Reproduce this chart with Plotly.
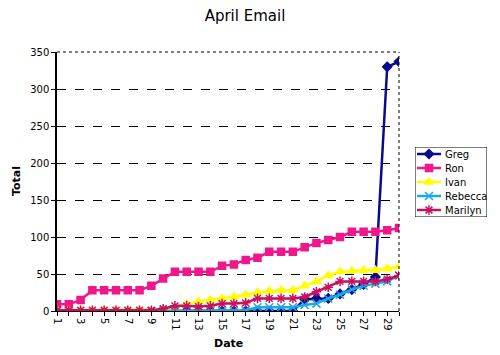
import plotly.graph_objects as go

days = list(range(1, 31))
greg = [None]*10 + [0]*11 + [16, 17, 17, 23, 29, 36, 46, 330, 337]
ron = [9, 9, 15, 28, 28, 28, 28, 28, 34, 44, 53, 53, 53, 53, 61, 63, 69, 72, 80, 80,
       80, 86, 92, 96, 100, 107, 107, 107, 109, 112]
ivan = [1, 1, 1, 1, 1, 1, 1, 1, 1, 2, 3, 9, 13, 15, 17, 19, 22, 25, 27, 28,
        28, 34, 40, 48, 53, 54, 55, 55, 57, 60]
rebecca = [None]*8 + [0]*8 + [1, 5, 5, 5, 5, 8, 10, 17, 22, 29, 34, 37, 40, 48]
marilyn = [1, 1, 1, 1, 1, 1, 1, 1, 1, 3, 7, 7, 6, 7, 10, 10, 11, 17, 17, 17,
           17, 19, 26, 32, 40, 40, 40, 40, 43, 48]

names = ["Greg", "Ron", "Ivan", "Rebecca", "Marilyn"]
values = [greg, ron, ivan, rebecca, marilyn]
colors = ["#0A0A8C", "#F0168C", "#FFFF00", "#1AA8E8", "#C81060"]
symbols = ["diamond", "square", "triangle-up", "x-thin-open", "asterisk-open"]
sizes = [7, 7, 8, 8, 8]

tick_vals = days
tick_text = [str(d) if d % 2 == 1 else "" for d in days]
y_ticks = list(range(0, 351, 50))

FONT = "DejaVu Sans"
OFF = 8                      # page body margin of the html page
W, H = 500 - OFF, 355 - OFF
# page-pixel geometry of the reference
PAGE_L, PAGE_R, PAGE_T, PAGE_B = 57, 399, 52, 311
ML = PAGE_L - OFF
MT = PAGE_T - OFF
MB = H - (PAGE_B - OFF)
MR = 10
PW = W - ML - MR
PH = H - MT - MB


def px_x(p):
    return (p - OFF - ML) / PW


def px_y(p):
    return (H - MB - (p - OFF)) / PH


fig = go.Figure()
for name, vals, col, sym, sz in zip(names, values, colors, symbols, sizes):
    fig.add_trace(go.Scatter(
        x=days, y=vals, name=name, mode="lines+markers",
        line=dict(color=col, width=2.5),
        marker=dict(symbol=sym, size=sz, color=col, line=dict(color=col, width=1.5)),
        showlegend=False,
    ))

# custom legend in its own small axes (box 72 x 70 px)
for i, (name, col, sym, sz) in enumerate(zip(names, colors, symbols, sizes)):
    yy = 63 - 14 * i
    fig.add_trace(go.Scatter(
        x=[2, 15, 26], y=[yy, yy, yy], mode="lines", xaxis="x2", yaxis="y2",
        line=dict(color=col, width=2.5), showlegend=False, hoverinfo="skip"))
    fig.add_trace(go.Scatter(
        x=[14], y=[yy], mode="markers", xaxis="x2", yaxis="y2",
        marker=dict(symbol=sym, size=sz, color=col, line=dict(color=col, width=1.5)),
        showlegend=False, hoverinfo="skip"))
    fig.add_annotation(x=28, y=yy, xref="x2", yref="y2", text=name, showarrow=False,
                       xanchor="left", yanchor="middle",
                       font=dict(family=FONT, size=10, color="black"))
fig.add_shape(type="rect", xref="x2", yref="y2", x0=0, x1=72, y0=0, y1=70,
              line=dict(color="black", width=1))

fig.update_layout(
    width=W, height=H,
    margin=dict(l=ML, r=MR, t=MT, b=MB),
    paper_bgcolor="white", plot_bgcolor="white",
    font=dict(family=FONT, size=10, color="black"),
    title=dict(text="April Email", x=(245 - OFF) / W, xanchor="center",
               y=1, yanchor="top", pad=dict(t=2, b=0),
               font=dict(family=FONT, size=15, color="black")),
    showlegend=False,
    xaxis=dict(domain=[0, (PAGE_R - PAGE_L) / PW], range=[1, 30],
               tickmode="array", tickvals=tick_vals, ticktext=tick_text,
               tickangle=90, ticks="outside", ticklen=4, tickcolor="black",
               showline=True, linecolor="black", linewidth=1, showgrid=False,
               zeroline=False, automargin=False),
    yaxis=dict(range=[0, 350], tickmode="array", tickvals=y_ticks,
               ticks="outside", ticklen=4, tickcolor="black",
               showline=True, linecolor="black", linewidth=1.5,
               showgrid=True, gridcolor="black", gridwidth=1, griddash="dash",
               zeroline=False, automargin=False),
    xaxis2=dict(domain=[px_x(415), px_x(487)], range=[0, 72], visible=False,
                anchor="y2", fixedrange=True),
    yaxis2=dict(domain=[px_y(217), px_y(147)], range=[0, 70], visible=False,
                anchor="x2", fixedrange=True),
)
# dotted frame top and right of the chart area
fig.add_shape(type="line", xref="x domain", yref="y domain", x0=0, x1=1, y0=1, y1=1,
              line=dict(color="black", width=1, dash="dot"))
fig.add_shape(type="line", xref="x domain", yref="y domain", x0=1, x1=1, y0=0, y1=1,
              line=dict(color="black", width=1, dash="dot"))
# axis titles
fig.add_annotation(text="<b>Date</b>", xref="x domain", yref="paper",
                   x=0.5, y=px_y(343), showarrow=False, xanchor="center", yanchor="middle",
                   font=dict(family=FONT, size=11, color="black"))
fig.add_annotation(text="<b>Total</b>", xref="paper", yref="paper",
                   x=px_x(16), y=px_y(181), showarrow=False, textangle=-90,
                   xanchor="center", yanchor="middle",
                   font=dict(family=FONT, size=11, color="black"))

fig.write_html("out.html")
